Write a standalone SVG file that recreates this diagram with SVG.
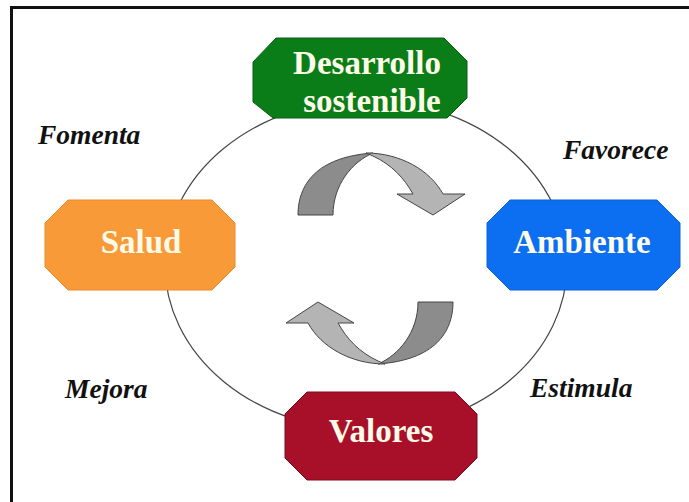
<svg xmlns="http://www.w3.org/2000/svg" width="689" height="502" viewBox="0 0 689 502">
<style>
.box text{font-family:"Liberation Serif",serif;font-weight:bold;font-size:33px;fill:#fdfbe8;text-anchor:middle}
.lbl{font-family:"Liberation Serif",serif;font-weight:bold;font-style:italic;font-size:27.5px;fill:#111}
.dark{fill:#8c8c8c;stroke:#444;stroke-width:1}
.light{fill:#b4b4b4;stroke:#444;stroke-width:1}
</style>
<rect width="689" height="502" fill="#fff"/>
<path d="M11.5,503 V7.5 H690" fill="none" stroke="#111" stroke-width="3"/>
<g id="connectors">
<ellipse cx="366" cy="265" rx="201" ry="165" fill="none" stroke="#444" stroke-width="1.2"/>
</g>
<g id="arrow-top">
<path class="dark" d="M298,215 C298,185 316,157 373,153 C352,162 333,185 333,215 Z"/>
<path class="light" d="M366,153 C400,153 430,170 443,194 L465,194 L433,215 L397,194 L413,194 C404,178 392,165 373,156 Z"/>
</g>
<g id="arrow-bottom" transform="rotate(180 375.5 258.5)">
<path class="dark" d="M298,215 C298,185 316,157 373,153 C352,162 333,185 333,215 Z"/>
<path class="light" d="M366,153 C400,153 430,170 443,194 L465,194 L433,215 L397,194 L413,194 C404,178 392,165 373,156 Z"/>
</g>
<g id="desarrollo" class="box">
<path d="M276,38 H444 L467,61 V98 L447,118 H273 L253,102 V62 Z" fill="#0b7d18" stroke="#076012"/>
<text x="367" y="74">Desarrollo</text>
<text x="372" y="112">sostenible</text>
</g>
<g id="salud" class="box">
<path d="M68,200 H212 L235,223 V267 L212,290 H68 L45,267 V223 Z" fill="#f89a38" stroke="#e88a28"/>
<text x="141" y="253">Salud</text>
</g>
<g id="ambiente" class="box">
<path d="M510,200 H657 L680,223 V267 L657,290 H510 L487,267 V223 Z" fill="#0c6ff2" stroke="#0a60d8"/>
<text x="582" y="253">Ambiente</text>
</g>
<g id="valores" class="box">
<path d="M307,392 H455 L477,414 V458 L455,480 H307 L285,458 V414 Z" fill="#a8102a" stroke="#7a0a1c"/>
<text x="381" y="442">Valores</text>
</g>
<text class="lbl" x="38" y="144">Fomenta</text>
<text class="lbl" x="563" y="159">Favorece</text>
<text class="lbl" x="65" y="398">Mejora</text>
<text class="lbl" x="530" y="397">Estimula</text>
</svg>
